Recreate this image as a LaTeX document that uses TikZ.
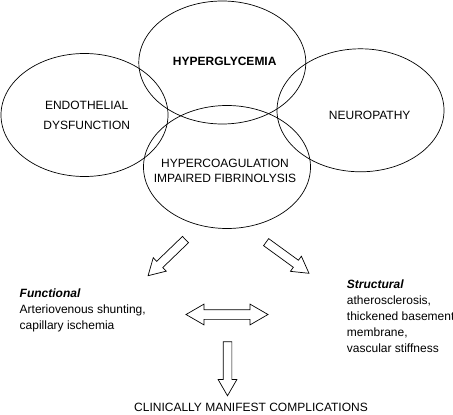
\documentclass[tikz,border=0pt]{standalone}
\usepackage{fontspec}
\setmainfont{Liberation Sans}
\usetikzlibrary{shapes.geometric,shapes.arrows}

\tikzset{
  oval/.style={ellipse, draw, minimum width=167pt, minimum height=123pt, inner sep=0pt},
  blockarrow/.style={single arrow, draw, inner sep=4pt, single arrow head extend=5pt,
    single arrow tip angle=60},
}

\begin{document}
\begin{tikzpicture}[x=1pt, y=-1pt, line width=0.7pt, font=\fontsize{12}{16}\selectfont]
                \useasboundingbox (0,0) rectangle (453,415);

                % Ovals
                \node[oval] (endo) at (84.5,115) {};
                \node[oval] (hyper) at (222.3,62.5) {};
                \node[oval] (neuro) at (360.5,110.3) {};
                \node[oval] (coag) at (227,167) {};

                % Labels in the ovals
                \node (hypert) at (224.7,61) {\textbf{HYPERGLYCEMIA}};
                \node[align=center] (endot) at (86.7,115.4) {ENDOTHELIAL\\[4pt]DYSFUNCTION};
                \node (neurot) at (369.7,115) {NEUROPATHY};
                \node[align=center, font=\fontsize{12}{15}\selectfont] (coagt) at (225,170.8)
                  {HYPERCOAGULATION\\IMPAIRED FIBRINOLYSIS};

                % Arrows
                \node[blockarrow, minimum height=52pt, rotate=224] (a1) at (169.5,255) {};
                \node[blockarrow, minimum height=53pt, rotate=-36] (a2) at (284.5,255.5) {};
                \node[double arrow, draw, inner sep=4.5pt, double arrow head extend=5.5pt,
                  double arrow tip angle=60, minimum height=82pt] (a3) at (227,314.5) {};
                \node[blockarrow, minimum height=54pt, rotate=-90] (a4) at (227.5,365) {};

                % Text
                \node[align=left, anchor=west] (func) at (16,310)
                  {\textbf{\textit{Functional}}\\Arteriovenous shunting,\\capillary ischemia};
                \node[align=left, anchor=west] (struct) at (343.3,316.3)
                  {\textbf{\textit{Structural}}\\atherosclerosis,\\thickened basement\\membrane,\\vascular stiffness};
                \node (clin) at (251,407) {CLINICALLY MANIFEST COMPLICATIONS};
            \end{tikzpicture}
\end{document}
